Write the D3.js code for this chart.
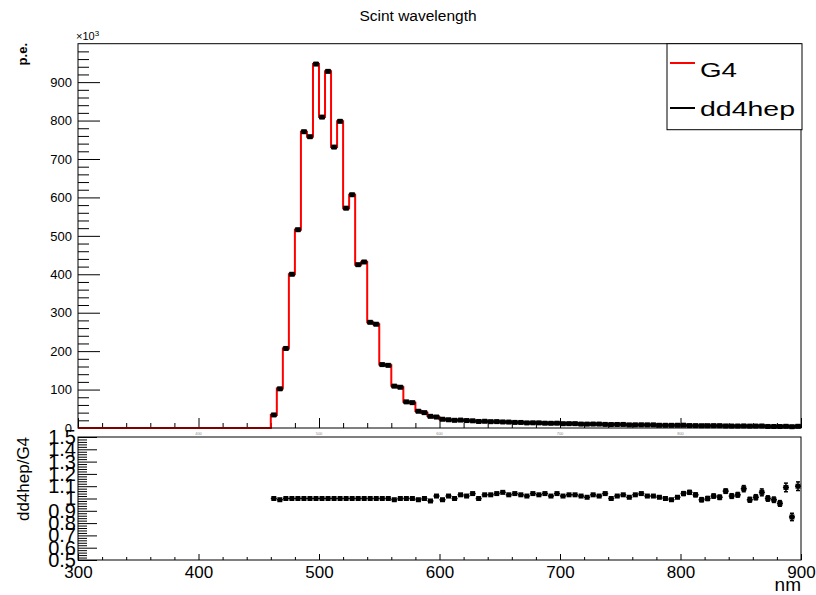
<!DOCTYPE html>
<html>
<head>
<meta charset="utf-8">
<script src="https://cdn.jsdelivr.net/npm/d3@7"></script>
<style>
body { margin: 0; background: #fff; }
text { font-family: "Liberation Sans", Arial, sans-serif; }
</style>
</head>
<body>
<svg id="c"></svg>
<script>
// bin lower edges (nm), 5 nm bins
var binLo = d3.range(300, 900, 5);

// G4 p.e. per bin (x10^3)
var g4 = [
  0,0,0,0,0,0,0,0,0,0,0,0,0,0,0,0,0,0,0,0,0,0,0,0,0,0,0,0,0,0,0,0,
  34,103,207,400,516,771,758,947,809,928,731,798,572,607,425,432,275,270,165,163,110,106,68,66,
  44,40,31,28,
  23,21,20,20,19,18,17,17,16,16,15,15,14,14,13,13,13,12,12,12,
  11,11,11,10,10,10,10,9,9,9,9,8,8,8,8,8,7,7,7,7,
  7,6,6,6,6,6,6,5,5,5,5,5,5,5,4,4,4,4,4,4
];

// dd4hep / G4 ratio, bins from 460 nm
var ratioLo = d3.range(460, 900, 5);
var ratio = [
  1.00,0.99,1.00,1.00,1.00,1.00,1.00,1.00,1.00,1.00,1.00,1.00,1.00,1.00,1.00,1.00,1.00,1.00,1.00,1.00,0.99,1.00,1.00,1.00,
  0.99,1.00,0.98,1.02,
  0.99,1.02,1.00,1.03,1.02,1.04,1.00,1.03,1.03,1.04,1.05,1.03,1.04,1.03,1.02,1.04,1.03,1.04,1.02,1.04,
  1.02,1.03,1.03,1.02,1.01,1.03,1.02,1.04,1.00,1.02,1.03,1.01,1.03,1.04,1.02,1.02,1.01,1.00,0.99,1.01,
  1.04,1.05,1.03,0.99,1.00,1.02,1.01,1.06,1.02,1.03,1.08,0.99,1.01,1.05,1.00,0.99,0.96,1.09,0.85,1.10
];
var ratioErr = [
  0.004,0.004,0.004,0.004,0.004,0.004,0.004,0.004,0.004,0.004,0.004,0.004,0.004,0.004,0.004,0.004,0.004,0.004,0.004,0.004,0.004,0.004,0.004,0.004,
  0.005,0.005,0.006,0.006,
  0.007,0.007,0.007,0.007,0.008,0.008,0.008,0.008,0.008,0.008,0.009,0.009,0.009,0.009,0.009,0.010,0.010,0.010,0.010,0.010,
  0.011,0.011,0.011,0.011,0.012,0.012,0.012,0.012,0.012,0.013,0.013,0.013,0.013,0.014,0.014,0.014,0.014,0.015,0.015,0.015,
  0.016,0.016,0.016,0.017,0.017,0.017,0.018,0.018,0.019,0.019,0.025,0.020,0.021,0.028,0.022,0.022,0.023,0.035,0.030,0.035
];

var dd4hep = ratio.map(function(r, i) { return g4[i + 32] * r; });

var W = 816, H = 595;
var svg = d3.select("#c").attr("width", W).attr("height", H);

var x = d3.scaleLinear().domain([300, 900]).range([78, 801]);
var y = d3.scaleLinear().domain([0, 1000]).range([428, 43.7]);
var yr = d3.scaleLinear().domain([0.5, 1.5]).range([560, 437]);

// title
svg.append("text").attr("x", 418).attr("y", 21).attr("text-anchor", "middle")
    .style("font-size", "15.5px").text("Scint wavelength");

// ---- upper pad ----
var upper = svg.append("g");

// y axis: major + minor ticks pointing inward
upper.append("g").attr("transform", "translate(78,0)")
    .call(d3.axisLeft(y).tickValues(d3.range(0, 1000, 100)).tickSizeInner(-22).tickSizeOuter(0)
        .tickPadding(6).tickFormat(d3.format("d")))
    .call(function(g) {
        g.select(".domain").remove();
        g.selectAll("text").style("font-size", "13px").attr("fill", "#000");
    });
upper.append("g").attr("transform", "translate(78,0)")
    .call(d3.axisLeft(y).tickValues(d3.range(0, 1001, 20).filter(function(d) { return d % 100; }))
        .tickSizeInner(-11).tickSizeOuter(0).tickFormat(""))
    .call(function(g) { g.select(".domain").remove(); });

// x axis ticks
upper.append("g").attr("transform", "translate(0,428)")
    .call(d3.axisBottom(x).tickValues(d3.range(300, 901, 100)).tickSizeInner(-10).tickSizeOuter(0).tickFormat(""))
    .call(function(g) { g.select(".domain").remove(); });
upper.append("g").attr("transform", "translate(0,428)")
    .call(d3.axisBottom(x).tickValues(d3.range(300, 901, 20).filter(function(d) { return d % 100; }))
        .tickSizeInner(-5).tickSizeOuter(0).tickFormat(""))
    .call(function(g) { g.select(".domain").remove(); });

// exponent label
var ex = upper.append("text").attr("x", 76).attr("y", 40).style("font-size", "11px");
ex.append("tspan").text("\u00d710");
ex.append("tspan").attr("dy", -4).style("font-size", "8px").text("3");

// y title
upper.append("text").attr("transform", "translate(27,43) rotate(-90)").attr("text-anchor", "end")
    .style("font-size", "13px").style("font-weight", "bold").text("p.e.");

// G4 histogram as red step line
var steps = binLo.map(function(d, i) { return [d, g4[i]]; });
steps.push([900, g4[g4.length - 1]]);
upper.append("path")
    .datum(steps)
    .attr("fill", "none").attr("stroke", "#ff0000").attr("stroke-width", 2)
    .attr("d", d3.line().x(function(d) { return x(d[0]); }).y(function(d) { return y(d[1]); })
        .curve(d3.curveStepAfter));

// dd4hep points
var pts = upper.append("g").selectAll("g").data(ratioLo).join("g");
pts.append("line")
    .attr("x1", function(d) { return x(d); }).attr("x2", function(d) { return x(d + 5); })
    .attr("y1", function(d, i) { return y(dd4hep[i]); }).attr("y2", function(d, i) { return y(dd4hep[i]); })
    .attr("stroke", "#000").attr("stroke-width", 2);
pts.append("line")
    .attr("x1", function(d) { return x(d) + 0.5; }).attr("x2", function(d) { return x(d) + 0.5; })
    .attr("y1", function(d, i) { return y(dd4hep[i]) - 2; }).attr("y2", function(d, i) { return y(dd4hep[i]) + 2; })
    .attr("stroke", "#000").attr("stroke-width", 1);
pts.append("line")
    .attr("x1", function(d) { return x(d + 5) - 0.5; }).attr("x2", function(d) { return x(d + 5) - 0.5; })
    .attr("y1", function(d, i) { return y(dd4hep[i]) - 2; }).attr("y2", function(d, i) { return y(dd4hep[i]) + 2; })
    .attr("stroke", "#000").attr("stroke-width", 1);
pts.append("rect")
    .attr("x", function(d) { return x(d + 2.5) - 2.5; }).attr("y", function(d, i) { return y(dd4hep[i]) - 2.5; })
    .attr("width", 5).attr("height", 5).attr("fill", "#000");

// frame
upper.append("rect").attr("x", 78).attr("y", 43.7).attr("width", 723).attr("height", 384.3)
    .attr("fill", "none").attr("stroke", "#000");

// legend
var leg = upper.append("g");
leg.append("rect").attr("x", 667).attr("y", 43.7).attr("width", 135).attr("height", 86)
    .attr("fill", "#fff").attr("stroke", "#000");
var legItems = [["G4", "#ff0000", 63, 77, 37], ["dd4hep", "#000", 108, 116, 95]];
legItems.forEach(function(it) {
    leg.append("line").attr("x1", 670).attr("x2", 695).attr("y1", it[2]).attr("y2", it[2])
        .attr("stroke", it[1]).attr("stroke-width", 2);
    leg.append("text").attr("x", 700).attr("y", it[3]).style("font-size", "21px")
        .attr("textLength", it[4]).attr("lengthAdjust", "spacingAndGlyphs").text(it[0]);
});

// ---- lower pad ----
svg.append("rect").attr("x", 0).attr("y", 432).attr("width", W).attr("height", H - 432).attr("fill", "#fff");

// tiny x labels of upper pad
svg.append("g").selectAll("text").data(d3.range(400, 900, 100)).join("text")
    .attr("x", function(d) { return x(d); }).attr("y", 435).attr("text-anchor", "middle")
    .style("font-size", "4px").attr("fill", "#888").text(function(d) { return d; });

var lower = svg.append("g");

lower.append("g").attr("transform", "translate(78,0)")
    .call(d3.axisLeft(yr).tickValues(d3.range(5, 16).map(function(d) { return d / 10; }))
        .tickSizeInner(-19).tickSizeOuter(0).tickPadding(2)
        .tickFormat(function(d) { return +d.toFixed(1); }))
    .call(function(g) {
        g.select(".domain").remove();
        g.selectAll("text").style("font-size", "20px").attr("fill", "#000");
    });
lower.append("g").attr("transform", "translate(78,0)")
    .call(d3.axisLeft(yr).tickValues(d3.range(25, 76).filter(function(d) { return d % 5; }).map(function(d) { return d / 50; }))
        .tickSizeInner(-9).tickSizeOuter(0).tickFormat(""))
    .call(function(g) { g.select(".domain").remove(); });

lower.append("g").attr("transform", "translate(0,560)")
    .call(d3.axisBottom(x).tickValues(d3.range(300, 901, 100)).tickSizeInner(-6).tickSizeOuter(0).tickPadding(6))
    .call(function(g) {
        g.select(".domain").remove();
        g.selectAll("text").style("font-size", "17px").attr("fill", "#000");
    });
lower.append("g").attr("transform", "translate(0,560)")
    .call(d3.axisBottom(x).tickValues(d3.range(300, 901, 20).filter(function(d) { return d % 100; }))
        .tickSizeInner(-3).tickSizeOuter(0).tickFormat(""))
    .call(function(g) { g.select(".domain").remove(); });

lower.append("text").attr("x", 801).attr("y", 591).attr("text-anchor", "end")
    .style("font-size", "19px").text("nm");
lower.append("text").attr("transform", "translate(29,479) rotate(-90)").attr("text-anchor", "middle")
    .style("font-size", "17px").text("dd4hep/G4");

// ratio points with error bars
var rp = lower.append("g").selectAll("g").data(ratioLo).join("g");
rp.append("line")
    .attr("x1", function(d) { return x(d); }).attr("x2", function(d) { return x(d + 5); })
    .attr("y1", function(d, i) { return yr(ratio[i]); }).attr("y2", function(d, i) { return yr(ratio[i]); })
    .attr("stroke", "#000").attr("stroke-width", 1.5);
rp.append("line")
    .attr("x1", function(d) { return x(d + 2.5); }).attr("x2", function(d) { return x(d + 2.5); })
    .attr("y1", function(d, i) { return yr(ratio[i] + ratioErr[i]); }).attr("y2", function(d, i) { return yr(ratio[i] - ratioErr[i]); })
    .attr("stroke", "#000").attr("stroke-width", 1.5);
rp.filter(function(d, i) { return ratioErr[i] > 0.015; }).each(function(d) {
    var i = ratioLo.indexOf(d), g = d3.select(this);
    [ratio[i] + ratioErr[i], ratio[i] - ratioErr[i]].forEach(function(v) {
        g.append("line").attr("x1", x(d + 2.5) - 2).attr("x2", x(d + 2.5) + 2)
            .attr("y1", yr(v)).attr("y2", yr(v)).attr("stroke", "#000").attr("stroke-width", 1.5);
    });
});
rp.append("rect")
    .attr("x", function(d) { return x(d + 2.5) - 2.5; }).attr("y", function(d, i) { return yr(ratio[i]) - 2.5; })
    .attr("width", 5).attr("height", 5).attr("fill", "#000");

lower.append("rect").attr("x", 78).attr("y", 437).attr("width", 723).attr("height", 123)
    .attr("fill", "none").attr("stroke", "#000");
</script>
</body>
</html>
